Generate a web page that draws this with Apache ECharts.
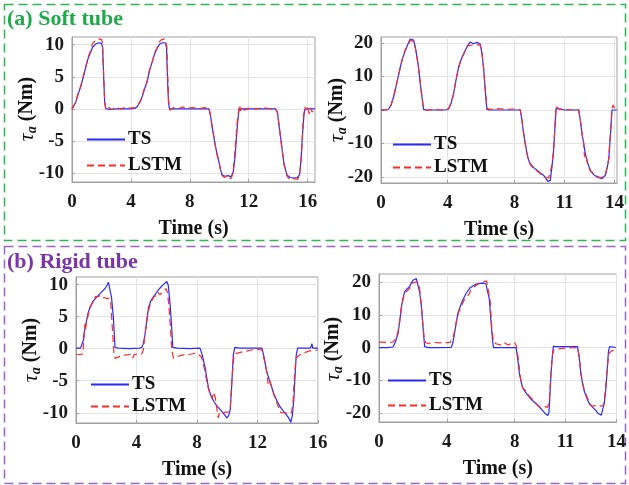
<!DOCTYPE html>
<html>
<head>
<meta charset="utf-8">
<script src="https://cdn.jsdelivr.net/npm/echarts@6/dist/echarts.min.js"></script>
<style>
html,body{margin:0;padding:0;background:#fff;}
#c{width:629px;height:485px;}
</style>
</head>
<body>
<div id="c"></div>
<script>
// ---------- data (time s, torque Nm) ----------
const softA_TS = [[0,0],[0.1,0.3],[0.25,1],[0.45,2.5],[0.6,3.6],[0.8,5.2],[0.95,6.7],[1.1,7.9],[1.25,8.8],[1.4,9.6],[1.6,10.1],[1.8,10.3],[2.0,10.2],[2.08,9.5],[2.15,5],[2.22,1],[2.3,0],[2.6,-0.1],[3,0],[3.5,0],[4,0],[4.3,0.1],[4.45,0.4],[4.6,1],[4.75,1.8],[4.9,2.9],[5.1,4.3],[5.25,5.8],[5.43,7.2],[5.6,8.5],[5.77,9.4],[5.95,10.1],[6.15,10.3],[6.35,10.3],[6.42,9.5],[6.48,5],[6.55,1],[6.62,0],[7,0],[8,0],[9,0],[9.3,0],[9.4,-1],[9.5,-2.5],[9.65,-4.7],[9.8,-6.5],[9.99,-8.4],[10.1,-9.6],[10.2,-10.3],[10.4,-10.5],[10.6,-10.4],[10.8,-10.6],[10.95,-9.8],[11.05,-8],[11.15,-5],[11.25,-2],[11.35,0],[11.42,0.3],[11.6,0],[12,0],[13,0],[13.8,0],[13.95,-0.5],[14.05,-2.5],[14.2,-5],[14.3,-7],[14.4,-8.6],[14.5,-9.5],[14.6,-10.3],[14.8,-10.7],[15.1,-10.8],[15.3,-10.7],[15.45,-10.3],[15.55,-8],[15.65,-4],[15.75,-1],[15.82,0],[15.9,0.3],[16.1,0],[16.5,0]];
const softA_LSTM = [[0,-0.1],[0.1,0.2],[0.25,1.1],[0.45,2.7],[0.6,3.5],[0.8,5.4],[0.95,6.6],[1.1,8.1],[1.25,9.0],[1.35,9.9],[1.45,10.4],[1.55,10.2],[1.65,10.7],[1.75,10.5],[1.85,10.9],[1.95,10.6],[2.02,10.8],[2.08,9.8],[2.15,5.2],[2.22,1.2],[2.3,-0.2],[2.5,0.2],[2.7,-0.1],[3,0.2],[3.3,0],[3.6,0.2],[4,0.1],[4.3,0.2],[4.45,0.5],[4.6,1.1],[4.75,1.7],[4.9,3.1],[5.1,4.2],[5.25,6],[5.43,7.1],[5.6,8.7],[5.77,9.5],[5.9,10.4],[6.0,10.2],[6.1,10.8],[6.2,10.5],[6.3,10.9],[6.38,10.6],[6.44,9.6],[6.5,5.3],[6.57,1],[6.65,-0.2],[6.9,0.2],[7.2,0],[7.5,0.3],[7.8,0.1],[8.2,0.2],[8.6,0],[9.0,0.2],[9.3,0.1],[9.4,-0.9],[9.5,-2.7],[9.65,-4.5],[9.8,-6.8],[9.99,-8.2],[10.1,-9.8],[10.2,-10.4],[10.35,-10.7],[10.5,-10.5],[10.65,-10.9],[10.8,-10.8],[10.92,-10.2],[11.0,-8.3],[11.1,-5.5],[11.2,-2.5],[11.3,-0.5],[11.38,0.6],[11.45,-0.3],[11.55,0.3],[11.7,-0.2],[12,0.1],[12.5,0],[13,0.2],[13.5,0],[13.8,0.1],[13.95,-0.6],[14.05,-2.3],[14.2,-5.3],[14.3,-6.8],[14.4,-8.8],[14.5,-9.4],[14.6,-10.5],[14.75,-10.9],[14.95,-11.0],[15.15,-10.9],[15.3,-11.0],[15.45,-10.5],[15.55,-8.2],[15.65,-4.2],[15.72,-1.2],[15.8,0.3],[15.9,-0.2],[16.0,0.4],[16.1,-0.8],[16.2,0.2],[16.3,-0.5],[16.5,0]];
const softB_TS = [[0,0],[0.3,0],[0.46,0.3],[0.6,1.5],[0.75,3.8],[0.95,8],[1.15,12.7],[1.3,15.5],[1.45,17.7],[1.6,19.5],[1.75,21.2],[1.85,21.5],[1.95,20.9],[2.05,19],[2.15,16],[2.25,12.7],[2.4,6],[2.55,0.2],[2.7,0],[3.5,0],[3.9,0],[4.05,0.3],[4.2,2],[4.35,4.8],[4.5,9],[4.65,12.7],[4.8,15],[4.95,16.7],[5.1,18.3],[5.25,19.7],[5.35,20.3],[5.45,20],[5.55,19.8],[5.65,20.3],[5.75,20.2],[5.95,19.7],[6.05,17],[6.15,12.7],[6.25,6],[6.35,0.2],[6.5,0],[7.5,0],[8.35,0],[8.45,-3],[8.55,-7],[8.65,-10],[8.75,-13],[8.85,-15],[8.95,-16],[9.15,-17.2],[9.35,-18],[9.55,-18.8],[9.75,-19.5],[9.9,-20.5],[10.0,-21.3],[10.05,-21.5],[10.15,-21],[10.25,-17],[10.35,-12],[10.42,-6],[10.5,0.5],[10.6,0.2],[11,0],[11.85,0],[11.95,-3],[12.05,-7],[12.15,-10],[12.25,-13],[12.4,-16],[12.55,-18],[12.75,-19.3],[12.95,-20],[13.1,-20.3],[13.25,-20.5],[13.35,-20.2],[13.45,-19.5],[13.55,-17.5],[13.65,-15],[13.75,-8],[13.85,0],[13.95,0.5],[14.15,0]];
const softB_LSTM = [[0,0],[0.3,0.1],[0.46,0.2],[0.6,1.3],[0.75,4],[0.95,8.3],[1.15,12.5],[1.3,15.8],[1.45,17.9],[1.6,19.2],[1.75,20.8],[1.85,21],[1.95,20.5],[2.05,18.7],[2.15,16.2],[2.25,12.5],[2.4,6.3],[2.55,0.5],[2.7,-0.1],[3.2,0.2],[3.6,0],[3.9,0.2],[4.05,0.4],[4.2,2.2],[4.35,4.6],[4.5,9.2],[4.65,12.5],[4.8,15.3],[4.95,16.5],[5.1,18.5],[5.25,19.3],[5.35,19.6],[5.45,19.4],[5.55,19.5],[5.65,19.6],[5.75,19.4],[5.95,19.3],[6.05,17.3],[6.15,12.5],[6.25,6.3],[6.35,0.5],[6.5,0.2],[7,0.4],[7.5,0.2],[8,0.3],[8.35,0.1],[8.45,-3.2],[8.55,-6.8],[8.65,-10.3],[8.75,-12.8],[8.85,-15.2],[8.95,-16.3],[9.15,-17.5],[9.35,-18.2],[9.55,-19],[9.75,-19.8],[9.9,-20.2],[10.0,-20.5],[10.05,-20.3],[10.15,-20],[10.25,-16.5],[10.35,-11.5],[10.42,-5.5],[10.5,1.2],[10.55,1.5],[10.65,0.3],[11,0.2],[11.5,0],[11.85,0.1],[11.95,-2.8],[12.05,-7.2],[12.15,-9.5],[12.2,-14],[12.25,-13.2],[12.4,-16.3],[12.55,-18.2],[12.75,-19],[12.95,-19.8],[13.1,-20],[13.25,-20.1],[13.35,-19.8],[13.45,-19.2],[13.55,-17.2],[13.65,-14.5],[13.75,-7.5],[13.85,0.5],[13.92,1.5],[14.0,0.5],[14.15,0.2]];
const rigidA_TS = [[0,0.1],[0.3,0.1],[0.42,0.3],[0.48,1.3],[0.58,3],[0.7,4.4],[0.8,5.6],[0.93,6.5],[1.1,7.3],[1.26,7.8],[1.45,8.3],[1.59,8.6],[1.75,9],[1.92,9.4],[2.05,9.9],[2.14,10.4],[2.25,10.2],[2.35,8],[2.47,4.9],[2.58,0.2],[2.8,0.1],[3.5,0],[4.2,0.1],[4.35,0.2],[4.45,0.8],[4.57,2.3],[4.68,4.5],[4.8,6.5],[4.95,7.5],[5.12,8.1],[5.3,8.7],[5.45,9.2],[5.6,9.6],[5.78,10],[5.9,10.3],[6.0,10.5],[6.1,9.9],[6.22,7],[6.32,3.5],[6.4,0.2],[6.7,0.1],[7.5,0],[8.2,0.1],[8.35,-1],[8.54,-3],[8.65,-4.6],[8.76,-6.1],[8.9,-7.2],[9.1,-8.2],[9.3,-8.9],[9.54,-9.5],[9.75,-10.1],[9.98,-10.8],[10.1,-10.4],[10.2,-9.5],[10.3,-5.5],[10.4,-1],[10.5,0.2],[10.8,0.1],[11.5,0.1],[12.3,0.1],[12.45,-1.5],[12.6,-3.5],[12.8,-5],[12.95,-6.1],[13.1,-7.2],[13.3,-8.2],[13.5,-9.1],[13.7,-9.7],[13.9,-10.3],[14.06,-10.8],[14.2,-11.5],[14.3,-10.5],[14.4,-8],[14.5,-3.5],[14.56,-1],[14.65,0.1],[15,0.1],[15.5,0.1],[15.6,0.8],[15.65,0.1],[16,0.1]];
const rigidA_LSTM = [[0,-0.9],[0.3,-0.9],[0.45,-0.8],[0.52,1.5],[0.58,3.8],[0.62,2.8],[0.68,4],[0.83,5.5],[1.0,6.7],[1.16,7.5],[1.3,8.2],[1.45,8.1],[1.6,8.3],[1.75,7.9],[1.9,8.0],[2.05,7.8],[2.2,7.9],[2.3,7.2],[2.4,3.3],[2.5,-0.5],[2.58,-1.5],[2.7,-1.3],[2.9,-1.2],[3.2,-1.0],[3.6,-0.9],[3.75,-1.5],[3.85,-0.9],[4.2,-0.8],[4.35,-0.8],[4.45,-0.2],[4.55,2],[4.7,4.6],[4.85,6.5],[5.0,7.4],[5.15,8.1],[5.3,8.3],[5.4,8.9],[5.55,8.4],[5.7,8.8],[5.85,9.0],[5.95,9.4],[6.05,8.8],[6.15,6.5],[6.25,3],[6.35,-0.5],[6.45,-1.5],[6.6,-1.3],[7.0,-1.0],[7.5,-0.9],[7.9,-0.7],[8.0,-0.4],[8.1,-0.9],[8.3,-1.3],[8.5,-3.2],[8.7,-5.8],[8.85,-7],[9.0,-7.8],[9.1,-6.8],[9.2,-7.5],[9.3,-9.2],[9.4,-10.8],[9.5,-9.9],[9.7,-10],[9.9,-9.9],[10.1,-9.9],[10.2,-9.3],[10.3,-5],[10.42,-1.5],[10.5,-0.8],[10.8,-0.6],[11.2,-0.4],[11.6,-0.2],[12.0,-0.1],[12.3,-0.2],[12.45,-1.8],[12.6,-3.4],[12.7,-5.5],[12.8,-4.9],[12.95,-6],[13.1,-7.3],[13.3,-8.6],[13.45,-9.4],[13.55,-10],[13.8,-10],[14.05,-10.1],[14.25,-10],[14.35,-8.3],[14.45,-4],[14.55,-1.5],[14.7,-1.1],[15,-0.7],[15.5,-0.3],[16,-0.2]];
const rigidB_TS = [[0,0],[0.5,0],[0.82,0.2],[0.95,1.5],[1.12,4.3],[1.22,8],[1.32,12.5],[1.42,15.3],[1.51,17.1],[1.65,18],[1.8,18.7],[1.9,19.8],[2.0,20.7],[2.1,21.2],[2.2,21.2],[2.3,20.7],[2.4,17],[2.5,12.5],[2.6,6],[2.69,0.3],[2.9,0],[3.5,0],[4.26,0.1],[4.35,1.5],[4.45,4.3],[4.55,7.5],[4.65,10.5],[4.8,12.8],[4.94,14.6],[5.14,16.7],[5.34,18.2],[5.55,19],[5.73,19.5],[5.95,19.7],[6.12,19.8],[6.3,19.6],[6.41,19.4],[6.5,15],[6.61,7.4],[6.7,2],[6.75,0],[7.2,0],[7.8,0],[8.08,0],[8.18,-3.5],[8.28,-8],[8.38,-10.5],[8.47,-12.3],[8.65,-13.8],[8.86,-15.2],[9.06,-16.3],[9.26,-17.2],[9.45,-18.2],[9.65,-19.3],[9.8,-20.2],[9.88,-20.6],[9.95,-20.8],[10.02,-19.9],[10.08,-14],[10.14,-8],[10.22,-2.5],[10.28,0.5],[10.4,0.3],[11,0.3],[11.7,0.3],[11.8,-3],[11.9,-8],[12.0,-11],[12.1,-13.3],[12.25,-15.5],[12.4,-17.2],[12.6,-18.3],[12.79,-19.3],[12.9,-20.1],[12.98,-20.6],[13.1,-20.7],[13.18,-20.4],[13.28,-17],[13.38,-12.3],[13.46,-6],[13.53,-0.9],[13.6,0.3],[13.67,0.5],[13.8,0.2],[13.96,0]];
const rigidB_LSTM = [[0,1.7],[0.4,1.6],[0.82,1.7],[0.95,2.5],[1.12,4.8],[1.22,8.3],[1.32,12.2],[1.42,15],[1.51,16.6],[1.65,17.4],[1.8,18.1],[1.9,18.6],[1.95,19.8],[2.05,20.1],[2.2,20.2],[2.35,19.8],[2.45,15.5],[2.55,9.5],[2.65,3.5],[2.75,1.5],[2.9,1.3],[3.2,1.6],[3.6,1.5],[4.2,1.6],[4.3,1.7],[4.4,3.8],[4.55,7.8],[4.7,10.9],[4.85,12.8],[5.0,14.4],[5.15,15.5],[5.3,16.3],[5.4,17.6],[5.55,18.4],[5.75,19.2],[5.95,19.8],[6.15,20.3],[6.35,20.4],[6.45,20.1],[6.55,14.5],[6.65,6],[6.75,1.8],[6.9,1.2],[7.2,0.8],[7.4,1.5],[7.6,0.8],[7.8,1.3],[8.0,1.5],[8.1,0.5],[8.2,-3],[8.3,-7.5],[8.4,-11.3],[8.5,-12.5],[8.65,-13.2],[8.85,-14.8],[9.05,-15.9],[9.25,-17],[9.4,-18],[9.6,-18.2],[9.8,-18.1],[9.95,-18.3],[10.05,-15.5],[10.12,-9],[10.2,-3],[10.28,-0.8],[10.4,-0.5],[10.8,-0.2],[11.2,-0.1],[11.7,0],[11.8,-2.5],[11.9,-7.8],[12.0,-10.8],[12.1,-13],[12.25,-15],[12.4,-16.8],[12.55,-18],[12.75,-17.8],[12.95,-17.9],[13.1,-17.9],[13.25,-17.6],[13.35,-13],[13.45,-6.5],[13.55,-1.8],[13.7,-1],[13.85,-0.8],[13.96,-0.5]];

// tick labels
const xTicks16 = [0,4,8,12,16];
const xTicks14 = [0,4,8,11,14];
const yTicks10 = [-10,-5,0,5,10];
const yTicks20 = [-20,-10,0,10,20];
const seriesNames = ['TS','LSTM'];
const panelTitles = ['(a) Soft tube','(b) Rigid tube'];
const xName = 'Time (s)';
const yName = '{t|τ}{s|a}{n| (Nm)}';

// ---------- layout ----------
const FONT = 'Liberation Serif';
const grids = [
  {left:72, top:37, width:243, height:145},
  {left:381, top:37, width:236, height:146},
  {left:76, top:277, width:242, height:146},
  {left:379, top:274, width:238, height:148}
];
const yNamePos = [[27,109],[337,110],[31,350],[333,349]];
const xRanges = [[0,16.5],[0,14.15],[0,16],[0,14]];
const yRanges = [[-11.4,11.2],[-21.8,21.8],[-11.6,11.2],[-22.8,22.6]];
const xTickSets = [xTicks16, xTicks14, xTicks16, xTicks14];
const yTickSets = [yTicks10, yTicks20, yTicks10, yTicks20];
const dataTS = [softA_TS, softB_TS, rigidA_TS, rigidB_TS];
const dataLSTM = [softA_LSTM, softB_LSTM, rigidA_LSTM, rigidB_LSTM];
const legendPos = [
  {left:86, top:130, gap:7},
  {left:392, top:135, gap:4},
  {left:90, top:375, gap:3},
  {left:387, top:371, gap:6}
];

const frameColor = '#a0a0a0';
const gridColor = '#e4e4e4';
const tsColor = '#2a2aff';
const lstmColor = '#ff2a2a';

const yNameRich = {
  t:{fontFamily:FONT, fontStyle:'italic', fontSize:22, fill:'#111', lineHeight:24, verticalAlign:'middle'},
  s:{fontFamily:FONT, fontStyle:'italic', fontWeight:'bold', fontSize:14, fill:'#111', lineHeight:24, verticalAlign:'bottom'},
  n:{fontFamily:FONT, fontWeight:'bold', fontSize:20, fill:'#111', lineHeight:24, verticalAlign:'middle'}
};

const option = {
  animation:false,
  backgroundColor:'#fff',
  grid: grids.map(g => Object.assign({show:true, borderColor:frameColor, borderWidth:1, backgroundColor:'#fff', containLabel:false}, g)),
  xAxis: grids.map((g,i) => ({
    type:'value', gridIndex:i, min:xRanges[i][0], max:xRanges[i][1],
    name:xName, nameLocation:'middle', nameGap:37,
    nameTextStyle:{fontFamily:FONT, fontWeight:'bold', fontSize:20, color:'#111'},
    axisLine:{show:true, onZero:false, lineStyle:{color:frameColor}},
    axisTick:{show:true, inside:true, length:3, lineStyle:{color:frameColor}, customValues:xTickSets[i]},
    axisLabel:{fontFamily:FONT, fontWeight:'bold', fontSize:19, color:'#1a1a1a', margin:11, customValues:xTickSets[i]},
    splitLine:{show:true, lineStyle:{color:gridColor, width:1}}
  })),
  yAxis: grids.map((g,i) => ({
    type:'value', gridIndex:i, min:yRanges[i][0], max:yRanges[i][1],
    axisLine:{show:true, onZero:false, lineStyle:{color:frameColor}},
    axisTick:{show:true, inside:true, length:3, lineStyle:{color:frameColor}, customValues:yTickSets[i]},
    axisLabel:{fontFamily:FONT, fontWeight:'bold', fontSize:19, color:'#1a1a1a', margin:8, customValues:yTickSets[i]},
    splitLine:{show:true, lineStyle:{color:gridColor, width:1}}
  })),
  legend: legendPos.map(p => ({
    data:seriesNames, orient:'vertical', left:p.left, top:p.top, itemGap:p.gap,
    itemWidth:38, itemHeight:14, selectedMode:false, padding:0,
    itemStyle:{opacity:0},
    textStyle:{fontFamily:FONT, fontWeight:'bold', fontSize:19, color:'#111', padding:[0,0,0,-2]}
  })),
  series: [],
  graphic: [
    {type:'rect', left:2, top:2, shape:{x:0,y:0,width:621,height:236}, style:{fill:null, stroke:'#2fb555', lineWidth:1.5, lineDash:[9,5]}, silent:true, z:0},
    {type:'rect', left:2, top:244, shape:{x:0,y:0,width:621,height:237}, style:{fill:null, stroke:'#9a66cc', lineWidth:1.5, lineDash:[9,5]}, silent:true, z:0},
    {type:'text', left:7, top:8, style:{text:panelTitles[0], fill:'#1faa4a', font:'bold 22px "Liberation Serif"'}, z:10},
    {type:'text', left:7, top:251, style:{text:panelTitles[1], fill:'#7a35a8', font:'bold 22px "Liberation Serif"'}, z:10}
  ].concat(yNamePos.map(p => ({
    type:'text', x:p[0], y:p[1], rotation:Math.PI/2, silent:true, z:10,
    style:{text:yName, rich:yNameRich, align:'center', verticalAlign:'middle', fill:'#111'}
  })))
};

for (let i = 0; i < 4; i++) {
  option.series.push({
    name:'TS', type:'line', xAxisIndex:i, yAxisIndex:i, data:dataTS[i],
    showSymbol:false, symbol:'none', lineStyle:{color:tsColor, width:1.2}, itemStyle:{color:tsColor},
    emphasis:{disabled:true}, z:3
  });
  option.series.push({
    name:'LSTM', type:'line', xAxisIndex:i, yAxisIndex:i, data:dataLSTM[i],
    showSymbol:false, symbol:'none', lineStyle:{color:lstmColor, width:1.2, type:[7,4]}, itemStyle:{color:lstmColor},
    emphasis:{disabled:true}, z:4
  });
}

const chart = echarts.init(document.getElementById('c'), null, {renderer:'canvas'});
chart.setOption(option);
</script>
</body>
</html>
